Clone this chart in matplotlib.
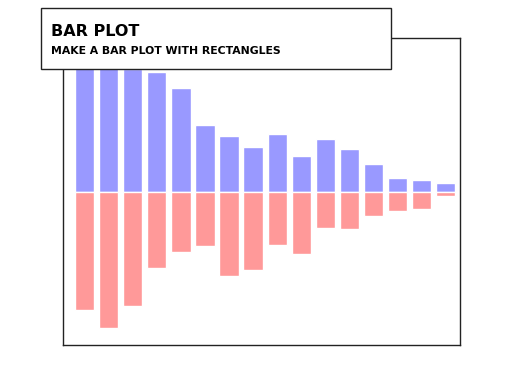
import numpy as np
import matplotlib
matplotlib.use("Agg")
import matplotlib.pyplot as plt
from matplotlib.patches import Rectangle

# bar values
X = np.arange(16)
Y1 = [1.05, 1.02, 1.00, 0.971, 0.841, 0.541, 0.451, 0.362,
      0.467, 0.289, 0.427, 0.346, 0.224, 0.110, 0.093, 0.069]
Y2 = [0.963, 1.110, 0.931, 0.622, 0.492, 0.443, 0.687, 0.638,
      0.435, 0.508, 0.297, 0.305, 0.199, 0.159, 0.142, 0.037]
title = "BAR PLOT"
subtitle = "MAKE A BAR PLOT WITH RECTANGLES"

W, H = 512, 384
fig = plt.figure(figsize=(W / 100, H / 100), dpi=100)
ax = fig.add_axes([63 / W, (H - 345) / H, 397 / W, 307 / H])

ax.bar(X, Y1, width=0.8, align='edge', facecolor='#9999ff', edgecolor='white')
ax.bar(X, -np.array(Y2), width=0.8, align='edge', facecolor='#ff9999', edgecolor='white')

ax.set_xlim(-0.5, len(X))
ax.set_ylim(-1.25, 1.25)
ax.set_xticks([])
ax.set_yticks([])
for s in ax.spines.values():
    s.set_color('#222222')
    s.set_linewidth(1)

# ==== title box ====
fig.patches.append(Rectangle((41 / W, (H - 69) / H), 350 / W, 61 / H,
                             transform=fig.transFigure, facecolor='white',
                             edgecolor='#222222', linewidth=1, zorder=5))
fig.text(51 / W, 1 - 35.5 / H, title, fontsize=11.5, fontweight='bold',
         va='baseline', ha='left', zorder=6)
fig.text(51 / W, 1 - 54 / H, subtitle, fontsize=7.8, fontweight='bold',
         va='baseline', ha='left', zorder=6)

fig.savefig("out.png", dpi=100)
